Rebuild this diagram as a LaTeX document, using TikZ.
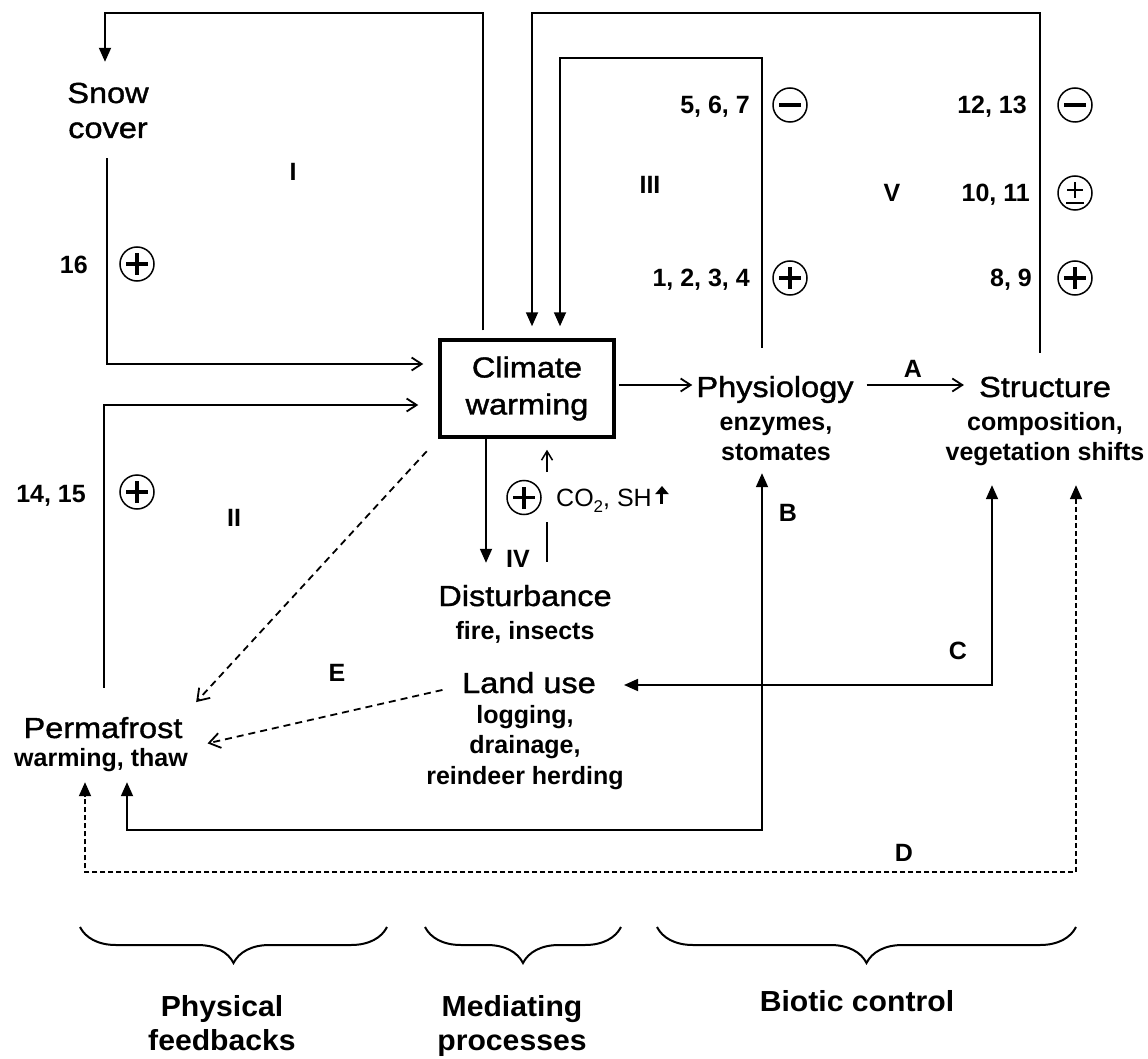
\documentclass[tikz,border=0pt]{standalone}
\usepackage{fontspec}
\setmainfont{Liberation Sans}
\newfontfamily\bigfont[FakeStretch=1.12,FakeBold=1.3]{Liberation Sans}
\newfontfamily\capfont[FakeStretch=1.04]{Liberation Sans}
\usetikzlibrary{arrows.meta,decorations.pathreplacing}

\tikzset{
  title/.style={font=\bigfont\fontsize{29}{35}\selectfont, inner sep=0pt, text height=21pt, text depth=6pt, anchor=base},
  sub/.style={font=\bfseries\fontsize{25}{30}\selectfont, inner sep=0pt, text height=18pt, text depth=5pt, anchor=base},
  num/.style={font=\bfseries\fontsize{25}{30}\selectfont, inner sep=0pt, anchor=base east},
  tag/.style={font=\bfseries\fontsize{25}{30}\selectfont, inner sep=0pt, anchor=base},
  group/.style={font=\capfont\bfseries\fontsize{29}{37}\selectfont, inner sep=0pt, anchor=base},
  sign/.style={circle, draw, line width=1.5pt, minimum size=34pt, inner sep=0pt},
  bar/.style={line width=3.4pt},
  ln/.style={line width=1.8pt},
  fl/.style={ln, -{Triangle[length=14pt,width=12pt]}},
  dfl/.style={ln, {Triangle[length=14pt,width=12pt]}-{Triangle[length=14pt,width=12pt]}},
  ddl/.style={ln, dash pattern=on 5pt off 3pt, {Triangle[length=14pt,width=12pt]}-{Triangle[length=14pt,width=12pt]}},
  ol/.style={ln, -{Straight Barb[length=10pt,width=13pt]}},
  tl/.style={line width=1.5pt, -{Straight Barb[length=9pt,width=11pt]}},
  dl/.style={ln, dash pattern=on 7pt off 5pt, -{Straight Barb[length=11pt,width=15pt]}},
  brc/.style={line width=2pt, decorate, decoration={brace, mirror, amplitude=36pt}},
}
\newcommand\mkplus[1]{\draw[bar] ([xshift=-11pt]#1.center) -- ([xshift=11pt]#1.center); \draw[bar] ([yshift=-11pt]#1.center) -- ([yshift=11pt]#1.center);}
\newcommand\mkminus[1]{\draw[bar] ([xshift=-11pt]#1.center) -- ([xshift=11pt]#1.center);}
\newcommand\mkpm[1]{\draw[bar, line width=2.6pt] ([xshift=-8pt,yshift=3pt]#1.center) -- ([xshift=8pt,yshift=3pt]#1.center); \draw[bar, line width=2.6pt] ([yshift=-5pt]#1.center) -- ([yshift=11pt]#1.center); \draw[bar, line width=2.6pt] ([xshift=-9pt,yshift=-10pt]#1.center) -- ([xshift=9pt,yshift=-10pt]#1.center);}

\begin{document}
\begin{tikzpicture}[x=1pt,y=-1pt]
\useasboundingbox (0,0) rectangle (1148,1059);
\fill[white] (0,0) rectangle (1148,1059);

% main nodes
\node[title] (snowA) at (108,103) {Snow};
\node[title] (snowB) at (108,138) {cover};
\node[draw, line width=3.5pt, minimum width=174pt, minimum height=97pt, align=center, inner sep=0pt, font=\bigfont\fontsize{29}{37}\selectfont] (cw) at (527,388.5) {Climate\\warming};
\node[title] (phys) at (775,397) {Physiology};
\node[sub] (physA) at (776,430) {enzymes,};
\node[sub] (physB) at (776,460) {stomates};
\node[title] (str) at (1045,397) {Structure};
\node[sub] (strA) at (1045,430) {composition,};
\node[sub] (strB) at (1045,460) {vegetation shifts};
\node[title] (dist) at (525,606) {Disturbance};
\node[sub] (distA) at (525,639) {fire, insects};
\node[title] (land) at (529,693) {Land use};
\node[sub] (landA) at (525,723) {logging,};
\node[sub] (landB) at (525,753) {drainage,};
\node[sub] (landC) at (525,784) {reindeer herding};
\node[title] (perm) at (103,738) {Permafrost};
\node[sub] (permA) at (101,766) {warming, thaw};

% numbers
\node[num] (n16) at (88,274) {16};
\node[num] (n1415) at (86,502) {14, 15};
\node[num] (n567) at (750,114) {5, 6, 7};
\node[num] (n1234) at (750,287) {1, 2, 3, 4};
\node[num] (n1213) at (1027,114) {12, 13};
\node[num] (n1011) at (1030,202) {10, 11};
\node[num] (n89) at (1032,287) {8, 9};

% signs
\node[sign] (s16) at (137,264) {}; \mkplus{s16}
\node[sign] (s1415) at (137,492) {}; \mkplus{s1415}
\node[sign] (s567) at (790,105) {}; \mkminus{s567}
\node[sign] (s1234) at (790,278) {}; \mkplus{s1234}
\node[sign] (s1213) at (1075,105) {}; \mkminus{s1213}
\node[sign] (s1011) at (1075,193) {}; \mkpm{s1011}
\node[sign] (s89) at (1075,278) {}; \mkplus{s89}
\node[sign] (sco) at (524,497.5) {}; \mkplus{sco}
\node[font=\fontsize{25}{30}\selectfont, inner sep=0pt, anchor=base west] (co) at (556,506) {CO\raisebox{-0.25em}{\fontsize{17}{17}\selectfont 2}, SH};
\draw[line width=3pt, -{Triangle[length=8pt,width=13pt]}] ([xshift=10pt,yshift=2pt]co.base east) -- ++(0,-18);

% tags
\node[tag] (r1) at (293,181) {I};
\node[tag] (r2) at (234,526) {II};
\node[tag] (r3) at (650,194) {III};
\node[tag] (r4) at (518,567) {IV};
\node[tag] (r5) at (892,202) {V};
\node[tag] (la) at (913,377) {A};
\node[tag] (lb) at (788,521) {B};
\node[tag] (lc) at (958,659) {C};
\node[tag] (ld) at (904,861) {D};
\node[tag] (le) at (337,681) {E};

% connectors
\coordinate (k1) at (483,13); \coordinate (k2) at (105,13);
\draw[fl, shorten <=8pt, shorten >=20pt] (cw.north -| k1) -- (k1) -- (k2) -- (snowA.north -| k2);
\coordinate (k3) at (107,364);
\draw[ol, shorten <=14pt, shorten >=15pt] (snowB.south -| k3) -- (k3) -- (cw.west |- k3);
\coordinate (k4) at (104,405);
\draw[ol, shorten <=29pt, shorten >=20pt] (perm.north -| k4) -- (k4) -- (cw.west |- k4);
\coordinate (k5) at (1040,13); \coordinate (k6) at (532,13);
\draw[fl, shorten <=23pt, shorten >=12pt] (str.north -| k5) -- (k5) -- (k6) -- (cw.north -| k6);
\coordinate (k7) at (762,58); \coordinate (k8) at (560,58);
\draw[fl, shorten <=28pt, shorten >=12pt] (phys.north -| k7) -- (k7) -- (k8) -- (cw.north -| k8);
\coordinate (k9) at (600,385);
\draw[ol, shorten <=3pt, shorten >=4pt] (cw.east |- k9) -- (phys.west |- k9);
\draw[ol, shorten <=13pt, shorten >=15pt] (phys.east |- k9) -- (str.west |- k9);
\coordinate (k10) at (486,500);
\draw[fl, shorten >=22pt] (cw.south -| k10) -- (dist.north -| k10);
\coordinate (co1) at (547,472); \coordinate (co2) at (547,522);
\draw[tl, shorten >=11pt] (co1) -- (cw.south -| co1);
\draw[line width=1.5pt, shorten <=23pt] (dist.north -| co2) -- (co2);
\draw[dl, shorten <=17pt, shorten >=20pt] (cw.south west) -- (perm.north east);
\draw[dl, shorten <=20pt, shorten >=20pt] (land.west) -- (permA.north east);
\coordinate (k11) at (762,830); \coordinate (k12) at (127,830);
\draw[dfl, shorten <=8pt, shorten >=11pt] (physB.south -| k11) -- (k11) -- (k12) -- (permA.south -| k12);
\coordinate (k13) at (992,685);
\draw[dfl, shorten <=20pt, shorten >=28pt] (strB.south -| k13) -- (k13) -- (land.east |- k13);
\coordinate (k14) at (1076,872); \coordinate (k15) at (85,872);
\draw[ddl, shorten <=20pt, shorten >=11pt] (strB.south -| k14) -- (k14) -- (k15) -- (permA.south -| k15);

% braces
\draw[brc] (80,927) -- (387,927);
\draw[brc] (425,927) -- (621,927);
\draw[brc] (657,927) -- (1076,927);
\node[group] (g1a) at (222,1016) {Physical};
\node[group] (g1b) at (222,1050) {feedbacks};
\node[group] (g2a) at (512,1016) {Mediating};
\node[group] (g2b) at (512,1050) {processes};
\node[group] (g3) at (857,1011) {Biotic control};
\end{tikzpicture}
\end{document}
